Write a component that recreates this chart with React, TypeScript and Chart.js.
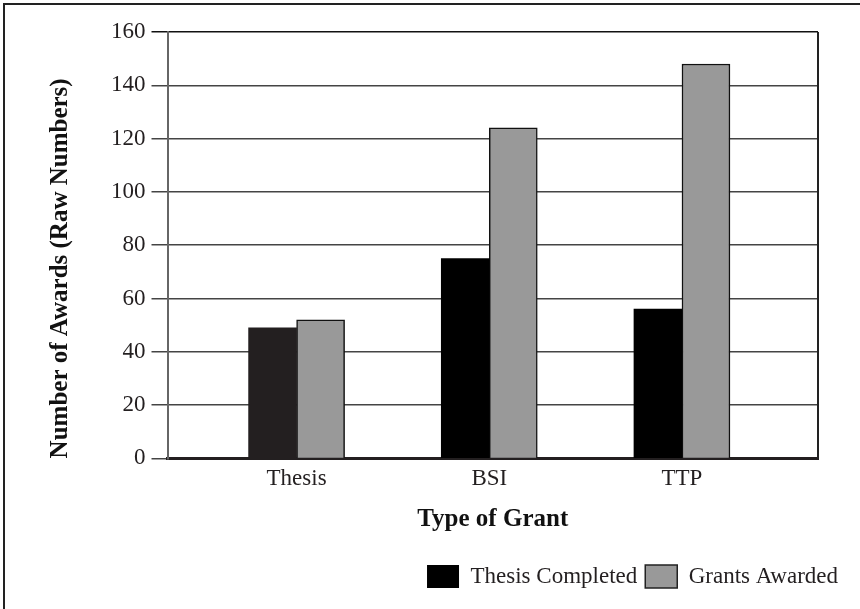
import React, { useEffect, useRef } from "react";
import { Chart, registerables } from "chart.js";

Chart.register(...registerables);

const categories = ["Thesis", "BSI", "TTP"];
const thesisCompleted = [49, 75, 56];
const grantsAwarded = [52, 124, 148];
const yTicks = [0, 20, 40, 60, 80, 100, 120, 140, 160];

const SERIF = "'Liberation Serif', 'Times New Roman', serif";

const framePlugin = {
  id: "frame",
  beforeDatasetsDraw(chart: any) {
    const { ctx, chartArea } = chart;
    ctx.save();
    ctx.strokeStyle = "#222";
    ctx.lineWidth = 2;
    ctx.beginPath();
    ctx.moveTo(chartArea.right, chartArea.top);
    ctx.lineTo(chartArea.right, chartArea.bottom);
    ctx.stroke();
    ctx.restore();
  },
  afterDraw(chart: any) {
    const { ctx } = chart;
    ctx.save();
    ctx.strokeStyle = "#222";
    ctx.lineWidth = 2;
    ctx.beginPath();
    ctx.moveTo(4, chart.height);
    ctx.lineTo(4, 4);
    ctx.lineTo(chart.width, 4);
    ctx.stroke();
    ctx.restore();
  },
};

export default function App() {
  const ref = useRef<HTMLCanvasElement>(null);
  useEffect(() => {
    document.body.style.margin = "0";
    const chart = new Chart(ref.current!, {
      type: "bar",
      data: {
        datasets: [
          {
            label: "Thesis Completed",
            data: thesisCompleted.map((v, i) => ({ x: i + 1, y: v })),
            backgroundColor: ["#231f20", "#000000", "#000000"],
            borderWidth: 0,
            barThickness: 48,
            yAxisID: "y",
          },
          {
            label: "Grants Awarded",
            data: grantsAwarded.map((v, i) => ({ x: i + 1, y: v })),
            backgroundColor: "#999999",
            borderColor: "#111111",
            borderWidth: 1.5,
            barThickness: 48,
            yAxisID: "y",
          },
        ],
      },
      options: {
        animation: false,
        responsive: false,
        layout: { padding: { top: 32, right: 14, left: 30, bottom: 11 } },
        plugins: {
          tooltip: { enabled: false },
          legend: {
            position: "bottom",
            align: "end",
            labels: {
              boxWidth: 32,
              boxHeight: 23,
              padding: 8,
              color: "#231f20",
              font: { family: SERIF, size: 23 },
              generateLabels: (c: any) => {
                const items = Chart.defaults.plugins.legend.labels.generateLabels(c);
                items[0].fillStyle = "#000";
                items[0].lineWidth = 0;
                items[1].fillStyle = "#999999";
                items[1].strokeStyle = "#222";
                items[1].lineWidth = 1.5;
                return items;
              },
            },
          },
        },
        scales: {
          x: {
            type: "linear",
            min: 0.33,
            max: 3.706,
            offset: false,
            afterBuildTicks: (s: any) => {
              s.ticks = categories.map((_, i) => ({ value: i + 1 }));
            },
            ticks: {
              color: "#231f20",
              font: { family: SERIF, size: 23 },
              padding: 7,
              callback: (v: any) => categories[Math.round(v) - 1] ?? "",
            },
            grid: { display: false, drawTicks: false, tickLength: 0 },
            border: { display: true, color: "#231f20", width: 3 },
            title: {
              display: true,
              text: "Type of Grant",
              color: "#111",
              font: { family: SERIF, size: 25, weight: "bold" },
              padding: { top: 5, bottom: 22 },
            },
          },
          y: {
            min: 0,
            max: 160,
            afterBuildTicks: (s: any) => {
              s.ticks = yTicks.map((v) => ({ value: v }));
            },
            ticks: {
              color: "#231f20",
              font: { family: SERIF, size: 23 },
              padding: 6,
            },
            grid: {
              color: (c: any) => (c.tick && c.tick.value === 160 ? "#111" : "#444"),
              lineWidth: 1.5,
              tickLength: 16,
              drawTicks: true,
            },
            border: { display: true, color: "#666", width: 2 },
            title: {
              display: true,
              text: "Number of Awards (Raw Numbers)",
              align: "start",
              color: "#111",
              font: { family: SERIF, size: 25, weight: "bold" },
              padding: { top: 16, bottom: 29 },
            },
          },
          y2: {
            position: "right",
            display: true,
            min: 0,
            max: 160,
            ticks: { display: false },
            grid: { display: false, drawTicks: false },
            border: { display: false },
            afterFit: (s: any) => {
              s.width = 28;
            },
          },
        },
      },
      plugins: [framePlugin],
    });
    return () => chart.destroy();
  }, []);
  return (
    <div style={{ width: 860, height: 609, background: "#fff" }}>
      <canvas ref={ref} width={860} height={609} />
    </div>
  );
}
